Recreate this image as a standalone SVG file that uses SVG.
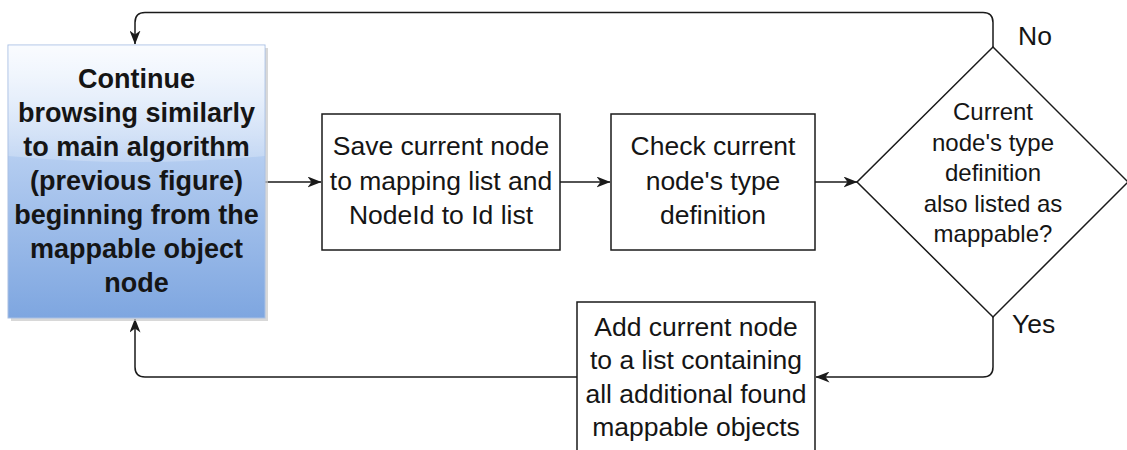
<svg xmlns="http://www.w3.org/2000/svg" width="1127" height="450" viewBox="0 0 1127 450">
  <style>
    .box { fill: #ffffff; stroke: #1a1a1a; stroke-width: 1.5; }
    .edge { fill: none; stroke: #1a1a1a; stroke-width: 1.5; }
    .t { font-family: "Liberation Sans", Arial, sans-serif; font-size: 26.5px; fill: #151515; text-anchor: middle; }
    .tb { font-weight: bold; font-size: 27px; }
    .ts { font-size: 24px; }
    .lbl { font-family: "Liberation Sans", Arial, sans-serif; font-size: 26.5px; fill: #151515; }
  </style>
  <defs>
    <linearGradient id="blueFill" x1="0" y1="0" x2="0" y2="1">
      <stop offset="0" stop-color="#dae8fc"/>
      <stop offset="1" stop-color="#7ea6e0"/>
    </linearGradient>
    <linearGradient id="glass" x1="0" y1="0" x2="0" y2="1">
      <stop offset="0" stop-color="#ffffff" stop-opacity="0.85"/>
      <stop offset="1" stop-color="#ffffff" stop-opacity="0.2"/>
    </linearGradient>
    <marker id="arrow" viewBox="0 0 14 11" refX="13.5" refY="5.5" markerWidth="14" markerHeight="11" markerUnits="userSpaceOnUse" orient="auto">
      <path d="M0,0 L14,5.5 L0,11 L4,5.5 Z" fill="#1a1a1a"/>
    </marker>
  </defs>

  <!-- connectors -->
  <g id="connectors">
    <path class="edge" d="M265,182 H321" marker-end="url(#arrow)"/>
    <path class="edge" d="M560,182 H610" marker-end="url(#arrow)"/>
    <path class="edge" d="M815,182 H857" marker-end="url(#arrow)"/>
    <path class="edge" d="M993,47 V22.5 Q993,12.5 983,12.5 H145 Q135,12.5 135,22.5 V44" marker-end="url(#arrow)"/>
    <path class="edge" d="M993,317 V367 Q993,377 983,377 H816" marker-end="url(#arrow)"/>
    <path class="edge" d="M577,377 H145 Q135,377 135,367 V319" marker-end="url(#arrow)"/>
  </g>

  <!-- start / continue node -->
  <g id="continue">
    <rect x="11" y="48" width="257" height="273" fill="#c8c8c8" opacity="0.7"/>
    <rect x="8" y="45" width="257" height="273" fill="url(#blueFill)" stroke="#a9c0e4" stroke-width="1"/>
    <path d="M8.5,45.5 H264.5 V156 Q136.5,168 8.5,156 Z" fill="url(#glass)"/>
    <text class="t tb" x="136.5" y="88">Continue</text>
    <text class="t tb" x="136.5" y="122">browsing similarly</text>
    <text class="t tb" x="136.5" y="156">to main algorithm</text>
    <text class="t tb" x="136.5" y="190">(previous figure)</text>
    <text class="t tb" x="136.5" y="224">beginning from the</text>
    <text class="t tb" x="136.5" y="258">mappable object</text>
    <text class="t tb" x="136.5" y="292">node</text>
  </g>

  <g id="save">
    <rect class="box" x="322" y="114" width="238" height="136"/>
    <text class="t" x="441" y="155">Save current node</text>
    <text class="t" x="441" y="190">to mapping list and</text>
    <text class="t" x="441" y="224">NodeId to Id list</text>
  </g>

  <g id="check">
    <rect class="box" x="611" y="114" width="204" height="136"/>
    <text class="t" x="713" y="155">Check current</text>
    <text class="t" x="713" y="190">node's type</text>
    <text class="t" x="713" y="224">definition</text>
  </g>

  <g id="decision">
    <polygon class="box" points="993,47 1128,182 993,317 857,182"/>
    <text class="t ts" x="993" y="120">Current</text>
    <text class="t ts" x="993" y="150.5">node's type</text>
    <text class="t ts" x="993" y="181">definition</text>
    <text class="t ts" x="993" y="211.5">also listed as</text>
    <text class="t ts" x="993" y="242">mappable?</text>
  </g>

  <g id="add">
    <rect class="box" x="577" y="302" width="238" height="160"/>
    <text class="t" x="696" y="336">Add current node</text>
    <text class="t" x="696" y="369">to a list containing</text>
    <text class="t" x="696" y="403">all additional found</text>
    <text class="t" x="696" y="436">mappable objects</text>
  </g>

  <g id="labels">
    <text class="lbl" x="1018" y="45">No</text>
    <text class="lbl" x="1012" y="333">Yes</text>
  </g>
</svg>
